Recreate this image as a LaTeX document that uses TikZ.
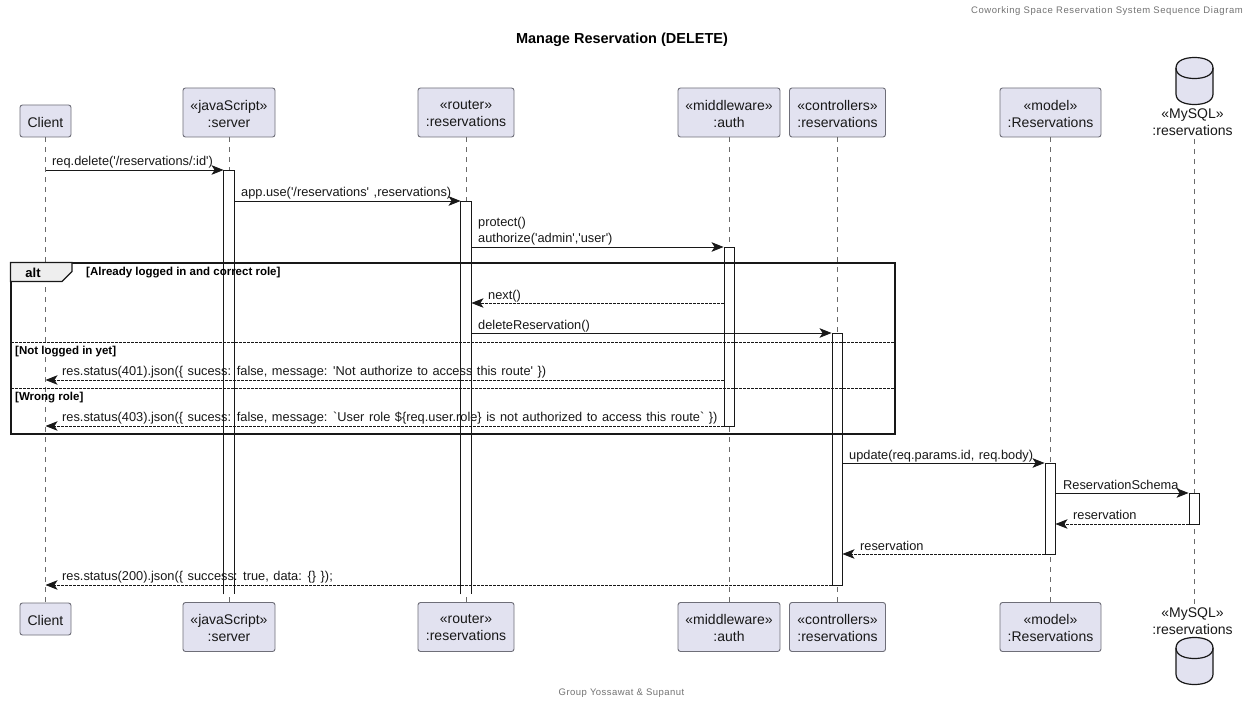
\documentclass[tikz,border=0pt]{standalone}
\usepackage{fontspec}
\setmainfont{Liberation Sans}
\newfontfamily\uml{Liberation Sans}
\newfontfamily\umls{Liberation Sans}[LetterSpace=6]
\newfontfamily\umlf{Liberation Sans}[LetterSpace=4.9]
\usetikzlibrary{arrows.meta}
\definecolor{partfill}{HTML}{E2E2F0}
\definecolor{partline}{HTML}{6E6E78}
\definecolor{lifeline}{HTML}{6A6A6A}
\definecolor{tabfill}{HTML}{EEEEEE}
\definecolor{inkdark}{HTML}{181818}
\newcommand{\lblfont}{\uml\fontsize{12.8}{16}\selectfont\spaceskip 4.56pt\relax}
\tikzset{
  part/.style={draw=partline,line width=0.9pt,fill=partfill,rounded corners=2.5pt,inner sep=0pt},
  ptext/.style={inner sep=0pt,align=center,text=inkdark,yshift=-1pt,font=\uml\fontsize{14}{17}\selectfont},
  lifel/.style={draw=lifeline,line width=0.7pt,dash pattern=on 5pt off 5pt},
  act/.style={draw=inkdark,line width=0.9pt,fill=white,inner sep=0pt,minimum width=10pt,anchor=north},
  actopen/.style={act,draw=none},
  actedge/.style={draw=inkdark,line width=0.9pt},
  msg/.style={draw=inkdark,line width=0.9pt,-{Stealth[length=12pt,width=9.5pt,inset=3pt]}},
  ret/.style={msg,dash pattern=on 2.5pt off 1.5pt},
  lbl/.style={anchor=base west,inner sep=0pt,text=inkdark,align=left,font=\lblfont},
  guard/.style={anchor=base west,inner sep=0pt,text=black,font=\uml\bfseries\fontsize{11.5}{13}\selectfont},
  dbtext/.style={inner sep=0pt,align=center,text=inkdark,font=\uml\fontsize{14}{17}\selectfont},
  dbbody/.style={draw=inkdark,line width=1.2pt,fill=partfill},
}
\begin{document}
\begin{tikzpicture}[x=1pt,y=-1pt]
\useasboundingbox (0,0) rectangle (1249,703);
\fill[white] (0,0) rectangle (1249,703);
% participants
\node[part,minimum width=51pt,minimum height=32pt,label={[ptext]center:Client}] (client) at (45.5,121) {};
\node[part,minimum width=92pt,minimum height=49pt,label={[ptext]center:«javaScript»\\:server}] (server) at (229,112.5) {};
\node[part,minimum width=96pt,minimum height=49pt,label={[ptext]center:«router»\\:reservations}] (router) at (466,112.5) {};
\node[part,minimum width=102pt,minimum height=49pt,label={[ptext]center:«middleware»\\:auth}] (auth) at (729,112.5) {};
\node[part,minimum width=96pt,minimum height=49pt,label={[ptext]center:«controllers»\\:reservations}] (ctrl) at (837.5,112.5) {};
\node[part,minimum width=101pt,minimum height=49pt,label={[ptext]center:«model»\\:Reservations}] (model) at (1050.5,112.5) {};
\node[dbtext] (db) at (1192.5,122.5) {«MySQL»\\:reservations};
\coordinate (dbL) at (1194,139);
\node[part,minimum width=51pt,minimum height=32pt,label={[ptext]center:Client}] (clientB) at (45.5,619) {};
\node[part,minimum width=92pt,minimum height=49pt,label={[ptext]center:«javaScript»\\:server}] (serverB) at (229,627) {};
\node[part,minimum width=96pt,minimum height=49pt,label={[ptext]center:«router»\\:reservations}] (routerB) at (466,627) {};
\node[part,minimum width=102pt,minimum height=49pt,label={[ptext]center:«middleware»\\:auth}] (authB) at (729,627) {};
\node[part,minimum width=96pt,minimum height=49pt,label={[ptext]center:«controllers»\\:reservations}] (ctrlB) at (837.5,627) {};
\node[part,minimum width=101pt,minimum height=49pt,label={[ptext]center:«model»\\:Reservations}] (modelB) at (1050.5,627) {};
\node[dbtext] (dbB) at (1192.5,621.5) {«MySQL»\\:reservations};
\coordinate (dbLB) at (1194,604);
% lifelines
\draw[lifel] (client.south) -- (clientB.north);
\draw[lifel] (server.south) -- (serverB.north);
\draw[lifel] (router.south) -- (routerB.north);
\draw[lifel] (auth.south) -- (authB.north);
\draw[lifel] (ctrl.south) -- (ctrlB.north);
\draw[lifel] (model.south) -- (modelB.north);
\draw[lifel] (dbL) -- (dbLB);
% databases
\path[dbbody] (1176,68) .. controls (1176,60) and (1186,57.5) .. (1194.5,57.5) .. controls (1203,57.5) and (1213,60) .. (1213,68) -- (1213,94) .. controls (1213,102) and (1203,104.5) .. (1194.5,104.5) .. controls (1186,104.5) and (1176,102) .. (1176,94) -- cycle;
\draw[line width=1.2pt,draw=inkdark] (1176,68) .. controls (1176,76) and (1186,78.5) .. (1194.5,78.5) .. controls (1203,78.5) and (1213,76) .. (1213,68);
\path[dbbody] (1176,648) .. controls (1176,640) and (1186,637.5) .. (1194.5,637.5) .. controls (1203,637.5) and (1213,640) .. (1213,648) -- (1213,674) .. controls (1213,682) and (1203,684.5) .. (1194.5,684.5) .. controls (1186,684.5) and (1176,682) .. (1176,674) -- cycle;
\draw[line width=1.2pt,draw=inkdark] (1176,648) .. controls (1176,656) and (1186,658.5) .. (1194.5,658.5) .. controls (1203,658.5) and (1213,656) .. (1213,648);
% activations
\node[actopen,minimum height=423.5pt] (aS) at (229,170) {};
\draw[actedge] (aS.south west) -- (aS.north west) -- (aS.north east) -- (aS.south east);
\node[actopen,minimum height=392.5pt] (aR) at (466,201) {};
\draw[actedge] (aR.south west) -- (aR.north west) -- (aR.north east) -- (aR.south east);
\node[act,minimum height=179pt] (aA) at (729,247) {};
\node[act,minimum height=252pt] (aC) at (837,333) {};
\node[act,minimum height=91pt] (aM) at (1050,463) {};
\node[act,minimum height=31pt] (aD) at (1194,493) {};
% levels
\coordinate (y1) at (0,170);
\coordinate (y2) at (0,201);
\coordinate (y3) at (0,247);
\coordinate (y4) at (0,303);
\coordinate (y5) at (0,333);
\coordinate (y6) at (0,380);
\coordinate (y7) at (0,426);
\coordinate (y8) at (0,463);
\coordinate (y9) at (0,493);
\coordinate (y10) at (0,524);
\coordinate (y11) at (0,554);
\coordinate (y12) at (0,585);
% messages
\draw[msg] (client |- y1) -- (aS.west |- y1);
\draw[msg] (aS.east |- y2) -- (aR.west |- y2);
\draw[msg] (aR.east |- y3) -- (aA.west |- y3);
\draw[ret] (aA.west |- y4) -- (aR.east |- y4);
\draw[msg] (aR.east |- y5) -- (aC.west |- y5);
\draw[ret] (aA.west |- y6) -- (client |- y6);
\draw[ret] (aA.west |- y7) -- (client |- y7);
\draw[msg] (aC.east |- y8) -- (aM.west |- y8);
\draw[msg] (aM.east |- y9) -- (aD.west |- y9);
\draw[ret] (aD.west |- y10) -- (aM.east |- y10);
\draw[ret] (aM.west |- y11) -- (aC.east |- y11);
\draw[ret] (aC.west |- y12) -- (client |- y12);
% labels
\node[lbl] (t1) at (52,165.5) {req.delete('/reservations/:id')};
\node[lbl] (t2) at (241,196.5) {app.use('/reservations' ,reservations)};
\node[lbl] (t3) at (478,243) {protect()\\authorize('admin','user')};
\node[lbl] (t4) at (488,299) {next()};
\node[lbl] (t5) at (478,329) {deleteReservation()};
\node[lbl] (t6) at (62,375.5) {res.status(401).json(\{ sucess: false, message: 'Not authorize to access this route' \})};
\node[lbl] (t7) at (62,421.5) {res.status(403).json(\{ sucess: false, message: `User role \$\{req.user.role\} is not authorized to access this route` \})};
\node[lbl] (t8) at (849,459) {update(req.params.id, req.body)};
\node[lbl] (t9) at (1063,489) {ReservationSchema};
\node[lbl] (t10) at (1073,519) {reservation};
\node[lbl] (t11) at (860,550) {reservation};
\node[lbl] (t12) at (62,580.5) {res.status(200).json(\{ success: true, data: \{\} \});};
% alt frame
\draw[draw=inkdark,line width=2pt] (10.5,262.5) rectangle (894.5,434);
\draw[draw=inkdark,line width=1.2pt,fill=tabfill] (10.5,262.5) -- (72,262.5) -- (72,271.5) -- (62,281.5) -- (10.5,281.5) -- cycle;
\draw[draw=inkdark,line width=0.8pt,dash pattern=on 2.5pt off 1.5pt] (11,342) -- (894,342);
\draw[draw=inkdark,line width=0.8pt,dash pattern=on 2.5pt off 1.5pt] (11,388) -- (894,388);
\node[anchor=center,inner sep=0pt,text=black,font=\uml\bfseries\fontsize{13}{15}\selectfont] (alt) at (33,272.5) {alt};
\node[guard] (g1) at (86,276) {[Already logged in and correct role]};
\node[guard] (g2) at (15,354) {[Not logged in yet]};
\node[guard] (g3) at (15,400.5) {[Wrong role]};
% captions
\node[inner sep=0pt,anchor=center,text=black,font=\uml\bfseries\fontsize{14.5}{16}\selectfont] (title) at (622,40) {Manage Reservation (DELETE)};
\node[inner sep=0pt,anchor=east,text=black!55,font=\umls\fontsize{9.5}{11}\selectfont] (hdr) at (1243,11.5) {Coworking Space Reservation System Sequence Diagram};
\node[inner sep=0pt,anchor=center,text=black!55,font=\umlf\fontsize{9.5}{11}\selectfont] (ftr) at (621.5,693) {Group Yossawat \& Supanut};
\end{tikzpicture}
\end{document}
